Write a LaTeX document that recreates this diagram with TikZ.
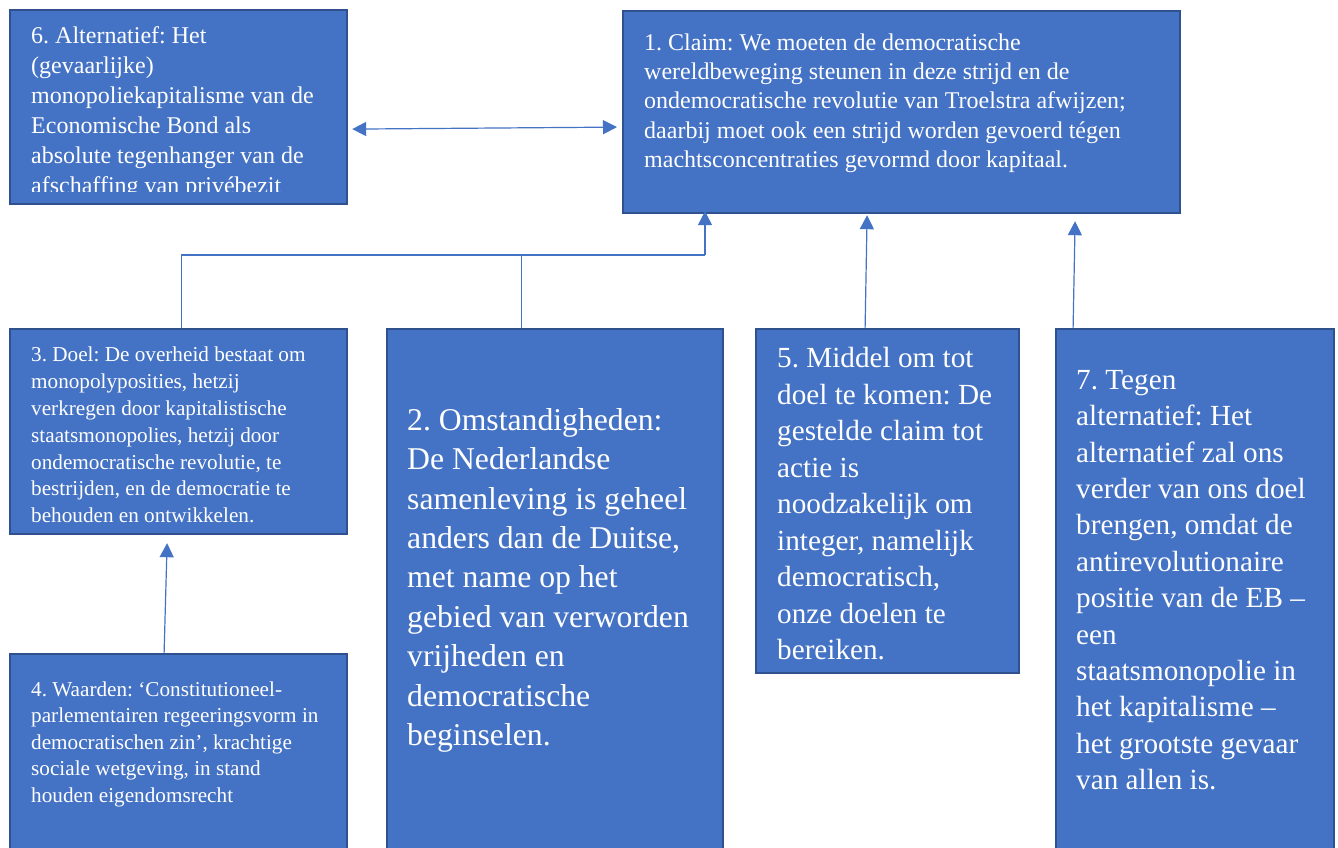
\documentclass[tikz,border=0pt]{standalone}
\usepackage{fontspec}
\setmainfont{Liberation Serif}
\frenchspacing
\usetikzlibrary{arrows.meta}
\definecolor{boxfill}{HTML}{4472C4}
\definecolor{boxline}{HTML}{2F528F}
\definecolor{connline}{HTML}{4472C4}
\newcommand\fstrut{\rule{0pt}{1em}}
\begin{document}
\begin{tikzpicture}[x=1pt,y=-1pt,
  box/.style={draw=boxline, fill=boxfill, line width=2.2pt, inner sep=0pt, anchor=north west},
  txt/.style={anchor=north west, inner sep=0pt, align=left, text=white},
  conn/.style={draw=connline, line width=1.2pt},
  tri/.style={-{Triangle[width=14pt,length=14pt]}},
  dtri/.style={{Triangle[width=14pt,length=14pt]}-{Triangle[width=14pt,length=14pt]}}
]
\useasboundingbox (0,0) rectangle (1338,848);
\clip (0,0) rectangle (1338,848);
\fill[white] (0,0) rectangle (1338,848);

% boxes
\node[box, minimum width=337pt, minimum height=194pt] (b6) at (9,9) {};
\node[box, minimum width=557pt, minimum height=202pt] (b1) at (622,10) {};
\node[box, minimum width=337pt, minimum height=205pt] (b3) at (9,328) {};
\node[box, minimum width=336pt, minimum height=540pt] (b2) at (386,328) {};
\node[box, minimum width=263pt, minimum height=344pt] (b5) at (755,328) {};
\node[box, minimum width=278pt, minimum height=540pt] (b7) at (1055,328) {};
\node[box, minimum width=337pt, minimum height=220pt] (b4) at (9,653) {};

% texts
\begin{scope}
\clip (9,9) rectangle (346,191.5);
\node[txt, font=\fontsize{24}{30}\selectfont] (t6) at (31,19.3) {\fstrut 6. Alternatief: Het\\(gevaarlijke)\\monopoliekapitalisme van de\\Economische Bond als\\absolute tegenhanger van de\\afschaffing van privébezit};
\end{scope}
\node[txt, font=\fontsize{24}{29.3}\selectfont] (t1) at (644,26) {\fstrut 1. Claim: We moeten de democratische\\wereldbeweging steunen in deze strijd en de\\ondemocratische revolutie van Troelstra afwijzen;\\daarbij moet ook een strijd worden gevoerd tégen\\machtsconcentraties gevormd door kapitaal.};
\node[txt, font=\fontsize{21.2}{26.8}\selectfont] (t3) at (31,340.5) {\fstrut 3. Doel: De overheid bestaat om\\monopolyposities, hetzij\\verkregen door kapitalistische\\staatsmonopolies, hetzij door\\ondemocratische revolutie, te\\bestrijden, en de democratie te\\behouden en ontwikkelen.};
\node[txt, font=\fontsize{31.7}{39.4}\selectfont] (t2) at (407,398.3) {\fstrut 2. Omstandigheden:\\De Nederlandse\\samenleving is geheel\\anders dan de Duitse,\\met name op het\\gebied van verworden\\vrijheden en\\democratische\\beginselen.};
\node[txt, font=\fontsize{29.2}{36.5}\selectfont] (t5) at (777,338.1) {\fstrut 5. Middel om tot\\doel te komen: De\\gestelde claim tot\\actie is\\noodzakelijk om\\integer, namelijk\\democratisch,\\onze doelen te\\bereiken.};
\node[txt, font=\fontsize{29.2}{36.4}\selectfont] (t7) at (1076,359.8) {\fstrut 7. Tegen\\alternatief: Het\\alternatief zal ons\\verder van ons doel\\brengen, omdat de\\antirevolutionaire\\positie van de EB –\\een\\staatsmonopolie in\\het kapitalisme –\\het grootste gevaar\\van allen is.};
\node[txt, font=\fontsize{21.2}{26.5}\selectfont] (t4) at (31,674.8) {\fstrut 4. Waarden: ‘Constitutioneel-\\parlementairen regeeringsvorm in\\democratischen zin’, krachtige\\sociale wetgeving, in stand\\houden eigendomsrecht};

% connectors
\coordinate (j) at (705,255);
\draw[conn, dtri] ([shift={(4,22)}]b6.east) -- ([shift={(-5,15)}]b1.west);
\draw[conn] ([xshift=2.5]b3.north) |- (j);
\draw[conn] ([xshift=-34]b2.north) -- ([xshift=-34]b2.north |- j);
\draw[conn, tri] (j) -- ([yshift=3]j |- b1.south);
\draw[conn, tri] ([xshift=-22.5]b5.north) -- ([shift={(-34.5,1)}]b1.south);
\draw[conn, tri] ([xshift=-122]b7.north) -- ([shift={(173.5,7)}]b1.south);
\draw[conn, tri] ([xshift=-14.5]b4.north) -- ([shift={(-11.5,8)}]b3.south);
\end{tikzpicture}
\end{document}
